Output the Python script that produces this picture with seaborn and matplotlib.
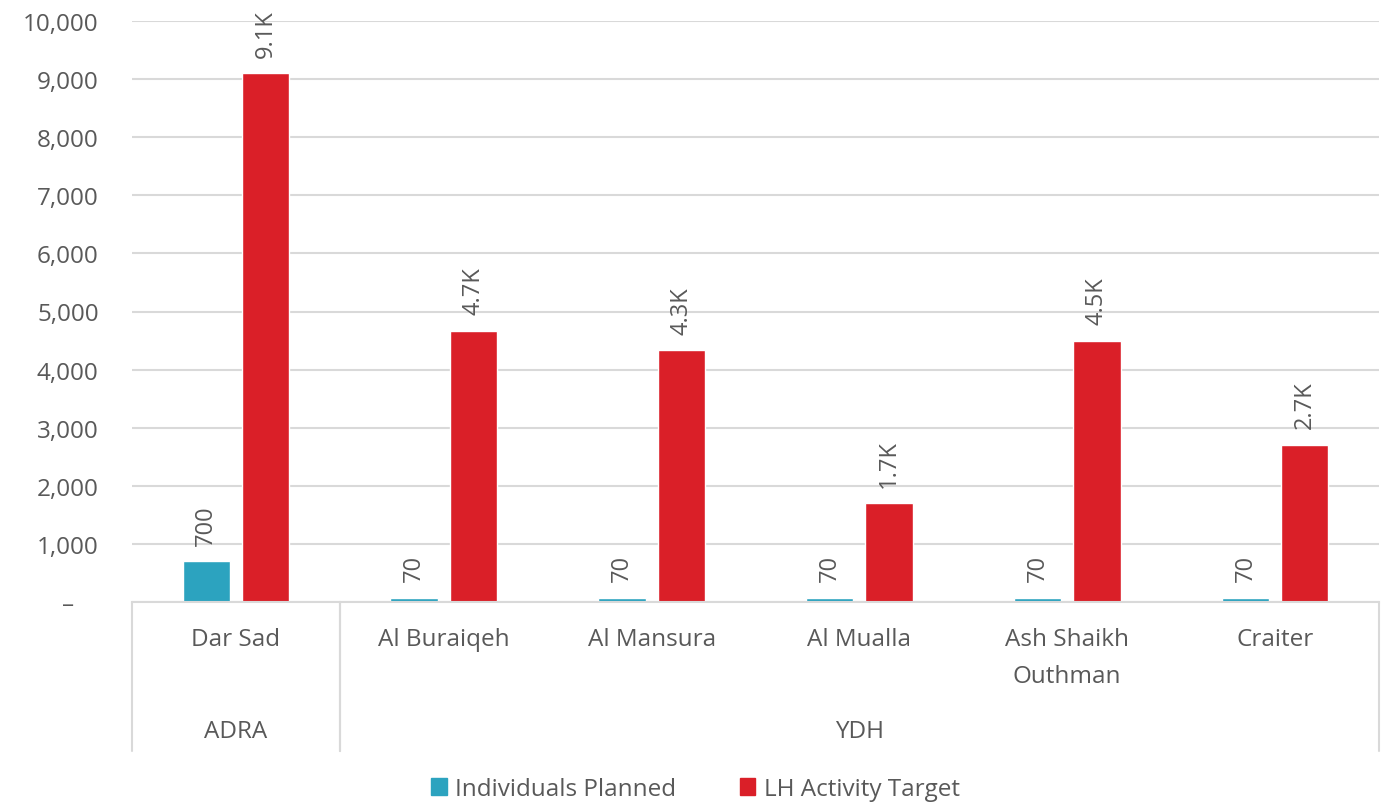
import matplotlib
matplotlib.use("Agg")
import matplotlib.pyplot as plt
import matplotlib.transforms as mtransforms
import pandas as pd
import seaborn as sns

# chart data
districts = ["Dar Sad", "Al Buraiqeh", "Al Mansura", "Al Mualla", "Ash Shaikh\nOuthman", "Craiter"]
partners = ["ADRA", "YDH", "YDH", "YDH", "YDH", "YDH"]
individuals_planned = [700, 70, 70, 70, 70, 70]
lh_activity_target = [9100, 4670, 4330, 1700, 4500, 2700]
series_names = ["Individuals Planned", "LH Activity Target"]
colors = ["#2ca3bf", "#da1f28"]
y_ticks = [0, 1000, 2000, 3000, 4000, 5000, 6000, 7000, 8000, 9000, 10000]

df = pd.DataFrame({
    "district": districts * 2,
    "series": [series_names[0]] * len(districts) + [series_names[1]] * len(districts),
    "value": individuals_planned + lh_activity_target,
})

sns.set_style("white")
plt.rcParams["font.family"] = ["Open Sans", "DejaVu Sans"]
text_col = "#595959"
grid_col = "#d9d9d9"
fs = 17.5

fig = plt.figure(figsize=(13.91, 8.04), dpi=100)
ax = fig.add_axes([132 / 1391, 1 - 603 / 804, (1379 - 132) / 1391, (603 - 22) / 804])

sns.barplot(data=df, x="district", y="value", hue="series", order=districts,
            hue_order=series_names, palette=colors, width=0.57, gap=0.2,
            saturation=1, ax=ax, legend=False)

ax.set_ylim(0, 10000)
ax.set_xlim(-0.5, len(districts) - 0.5)
ax.set_yticks(y_ticks)
# accounting style: zero shown as a dash, not right-aligned
ax.set_yticklabels(["–    " if v == 0 else f"{v:,}" for v in y_ticks], color=text_col, fontsize=fs)
ax.tick_params(axis="y", length=0, pad=24)
ax.yaxis.grid(True, color=grid_col, linewidth=1.5)
ax.set_axisbelow(True)
for s in ["top", "right", "left"]:
    ax.spines[s].set_visible(False)
ax.spines["bottom"].set_color(grid_col)
ax.spines["bottom"].set_linewidth(1.5)
ax.set_xlabel("")
ax.set_ylabel("")
ax.set_xticks(range(len(districts)))
ax.set_xticklabels([])
ax.tick_params(axis="x", length=0)

def fmt(v):
    return f"{v / 1000:.1f}K" if v >= 1000 else f"{int(v)}"

for cont in ax.containers:
    ax.bar_label(cont, labels=[fmt(b.get_height()) for b in cont], rotation=90,
                 padding=12, color=text_col, fontsize=fs - 0.5)

# category / group labels below the axis
trans = mtransforms.blended_transform_factory(ax.transData, fig.transFigure)
for i, name in enumerate(districts):
    for k, line in enumerate(name.split("\n")):
        ax.text(i, 1 - (640 + 37 * k) / 804, line, transform=trans, ha="center",
                va="center", color=text_col, fontsize=fs, clip_on=False)

groups = []
for i, p in enumerate(partners):
    if groups and groups[-1][0] == p:
        groups[-1][2] = i
    else:
        groups.append([p, i, i])
for p, start, end in groups:
    ax.text((start + end) / 2, 1 - 732 / 804, p, transform=trans, ha="center",
            va="center", color=text_col, fontsize=fs)
    for xb in [start - 0.5, end + 0.5]:
        ax.plot([xb, xb], [1 - 603 / 804, 1 - 752 / 804], transform=trans,
                color=grid_col, linewidth=1.5, clip_on=False)

handles = [plt.Rectangle((0, 0), 1, 1, color=c) for c in colors]
fig.legend(handles, series_names, loc="center", bbox_to_anchor=(0.5, 1 - 790 / 804),
           ncol=2, frameon=False, handlelength=0.65, handleheight=0.65,
           handletextpad=0.35, columnspacing=2.6, prop={"size": fs},
           labelcolor=text_col)

fig.savefig("out.png", dpi=100)
